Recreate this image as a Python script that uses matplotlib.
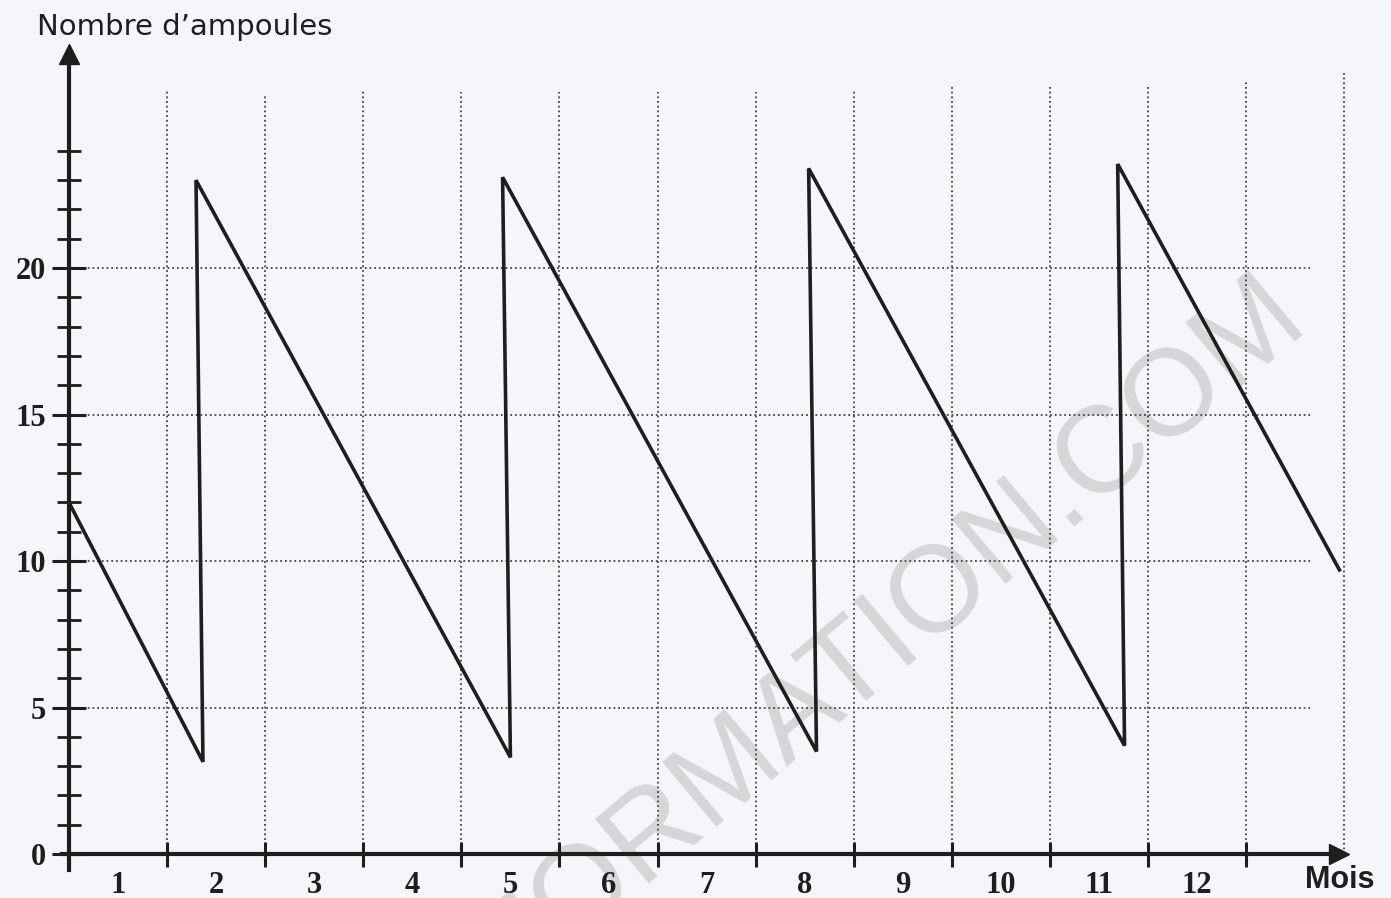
import matplotlib
matplotlib.use("Agg")
import matplotlib.pyplot as plt
import numpy as np

# stock of bulbs (month, number)
mois = [0, 1.366, 1.295, 4.50, 4.42, 7.62, 7.54, 10.76, 10.69, 12.95]
ampoules = [12, 3.15, 23.0, 3.3, 23.1, 3.5, 23.4, 3.7, 23.55, 9.7]

grid_y = [5, 10, 15, 20]
grid_x = [1, 2, 3, 4, 5, 6, 7, 8, 9, 10, 11, 12, 13]
grid_x_top = [26.1, 25.9, 26.1, 26.0, 26.0, 26.0, 26.0, 26.1, 26.2, 26.2, 26.3, 26.4, 26.7]
mois_labels = ["1", "2", "3", "4", "5", "6", "7", "8", "9", "10", "11", "12"]

ink = "#1e1e1e"
paper = "#f4f6fa"

fig = plt.figure(figsize=(13.91, 8.98), dpi=100, facecolor=paper)
ax = fig.add_axes([0, 0, 1, 1], facecolor=paper)
ax.set_xlim(-0.703, 13.476)
ax.set_ylim(-1.50, 29.15)

# watermark of the scanned page
ax.text(12.05, 20.5, "FORMATION.COM", rotation=40, ha="right", va="top",
        fontsize=88, color="#d6d6d8", family="Liberation Sans", zorder=0,
        rotation_mode="anchor", clip_on=True)

# dotted grid
ax.hlines(grid_y, 0, 12.65, colors="#444444", linestyles=(0, (1, 1.6)), lw=1.3, zorder=1)
ax.vlines(grid_x, 0, grid_x_top, colors="#444444", linestyles=(0, (1, 1.6)), lw=1.3, zorder=1)

# curve
ax.plot(mois, ampoules, color=ink, lw=2.6, solid_joinstyle="miter", zorder=3)

# axes lines
for side in ["top", "right"]:
    ax.spines[side].set_visible(False)
ax.spines["left"].set_position(("data", 0))
ax.spines["bottom"].set_position(("data", 0))
ax.spines["left"].set_bounds(-0.55, 27.2)
ax.spines["bottom"].set_bounds(-0.07, 12.85)
for side in ["left", "bottom"]:
    ax.spines[side].set_linewidth(3)
    ax.spines[side].set_color(ink)
ax.plot([0], [27.3], marker="^", markersize=15, color=ink, clip_on=False, zorder=4)
ax.plot([12.95], [0], marker=">", markersize=15, color=ink, clip_on=False, zorder=4)

# y ticks
ax.set_yticks([0, 5, 10, 15, 20])
ax.set_yticks([v for v in range(1, 25) if v % 5], minor=True)
ax.tick_params(axis="y", which="major", direction="inout", length=25, width=2.2,
               color=ink, pad=4, labelsize=22, labelcolor=ink)
ax.tick_params(axis="y", which="minor", direction="inout", length=17, width=2.0, color=ink)

# x ticks: marks at months, labels centred in each month
ax.set_xticks(range(1, 13))
ax.set_xticklabels([])
ax.set_xticks(np.arange(0.5, 12, 1), minor=True)
ax.set_xticklabels(mois_labels, minor=True)
ax.tick_params(axis="x", which="major", direction="inout", length=18, width=2.2, color=ink)
ax.tick_params(axis="x", which="minor", length=0, pad=12, labelsize=22, labelcolor=ink)

for lab in ax.get_yticklabels() + ax.get_xticklabels(minor=True):
    lab.set_family("Liberation Serif")
    lab.set_fontweight("bold")

ax.text(-0.33, 27.75, "Nombre d\u2019ampoules", fontsize=21, color=ink,
        family="DejaVu Sans", ha="left", va="bottom")
ax.text(12.95, -0.9, "Mois", fontsize=22, color=ink, fontweight="bold",
        family="Liberation Sans", ha="center", va="center")

fig.savefig("out.png", dpi=100, facecolor=paper)
